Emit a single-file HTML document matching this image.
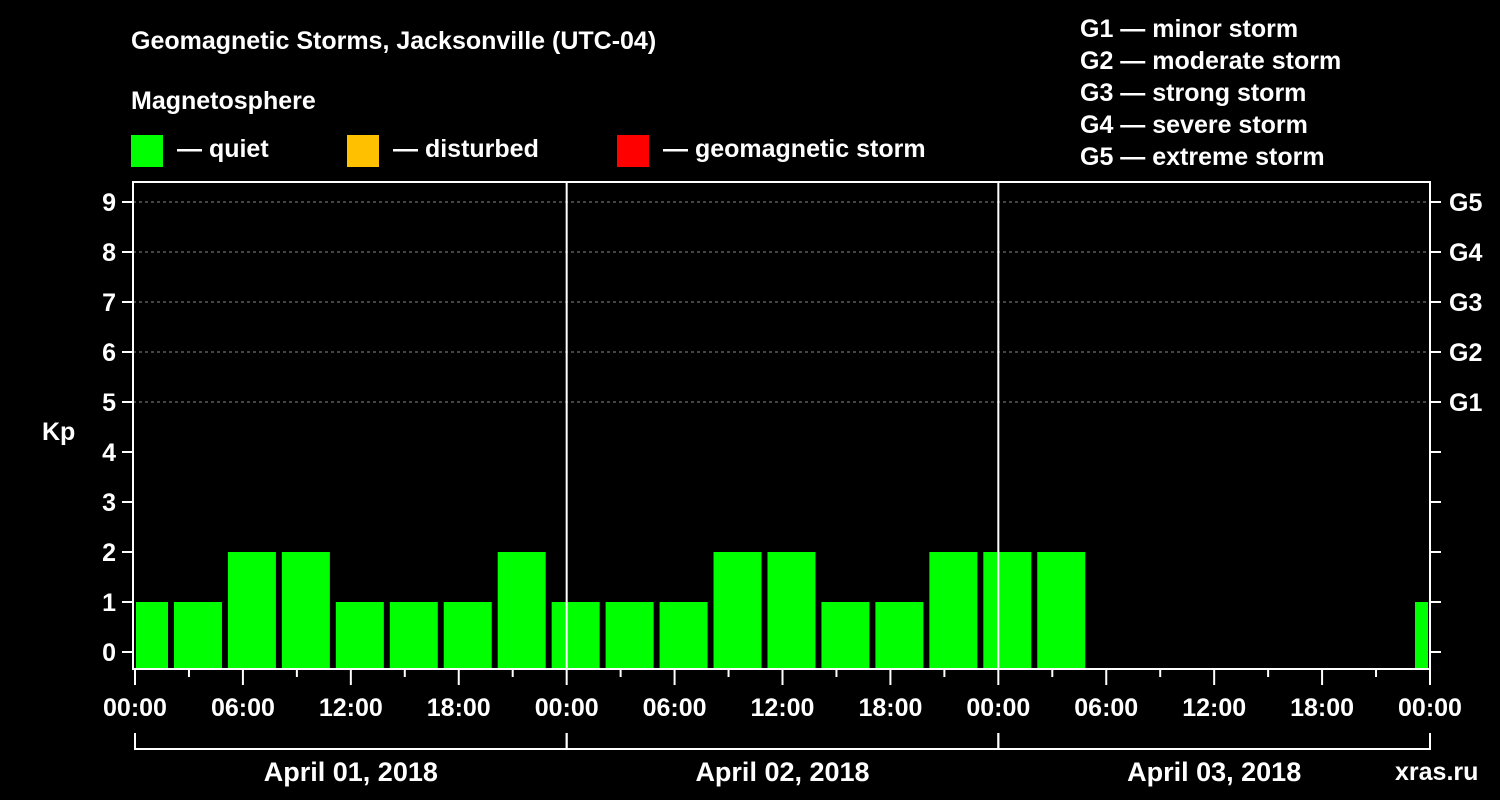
<!DOCTYPE html>
<html><head><meta charset="utf-8"><style>
html,body{margin:0;padding:0;background:#000;}
svg{display:block;font-family:"Liberation Sans",sans-serif;font-weight:bold;}
</style></head><body>
<svg id="chart" width="1500" height="800" viewBox="0 0 1500 800">
<rect width="1500" height="800" fill="#000"/>
<text x="131" y="49" fill="#fff" font-size="25">Geomagnetic Storms, Jacksonville (UTC-04)</text>
<text x="131" y="109" fill="#fff" font-size="25">Magnetosphere</text>
<g><rect x="131" y="135" width="32" height="32" fill="#00ff00"/><text x="177" y="157" fill="#fff" font-size="25">— quiet</text></g>
<g><rect x="347" y="135" width="32" height="32" fill="#ffc000"/><text x="393" y="157" fill="#fff" font-size="25">— disturbed</text></g>
<g><rect x="617" y="135" width="32" height="32" fill="#ff0000"/><text x="663" y="157" fill="#fff" font-size="25">— geomagnetic storm</text></g>
<g fill="#fff" font-size="25">
<text x="1080" y="37">G1 — minor storm</text>
<text x="1080" y="69">G2 — moderate storm</text>
<text x="1080" y="101">G3 — strong storm</text>
<text x="1080" y="133">G4 — severe storm</text>
<text x="1080" y="165">G5 — extreme storm</text>
</g>
<text x="42" y="440" fill="#fff" font-size="25">Kp</text>
<text x="1395" y="780" fill="#fff" font-size="25">xras.ru</text>
<g id="plot"></g>
</svg>
<script>
const kpValues=[1,1,2,2,1,1,1,2,1,1,1,2,2,1,1,2,2,2,null,null,null,null,null,null,1];
const dayLabels=["April 01, 2018","April 02, 2018","April 03, 2018"];
const hourLabels=["00:00","06:00","12:00","18:00"];
const gLabels=["G1","G2","G3","G4","G5"];
const kpTicks=[0,1,2,3,4,5,6,7,8,9];

const NS="http://www.w3.org/2000/svg";
const L=133,R=1430,T=182,B=669;
const x=h=>135+h*(1430-135)/72;
const y=v=>652-v*50;
const g=document.getElementById('plot');
function mk(t,a,txt){const e=document.createElementNS(NS,t);for(const k in a)e.setAttribute(k,a[k]);if(txt!==undefined)e.textContent=txt;g.appendChild(e);return e;}
// grid
for(const v of [5,6,7,8,9]){const e=mk('line',{x1:L,x2:R,y1:y(v),y2:y(v),stroke:'#888','stroke-dasharray':'3,3','stroke-width':1});

}
// bars
kpValues.forEach((v,i)=>{if(v===null)return;
let c=-1+3*i+1.5;let x0=Math.max(x(c)-24,136),x1=Math.min(x(c)+24,1428);
const col=v>=5?'#ff0000':(v>=4?'#ffc000':'#00ff00');
const e=mk('rect',{x:x0,y:y(v),width:x1-x0,height:B-y(v),fill:col});

});
// day separators
for(const d of [1,2]){const e=mk('line',{x1:x(24*d),x2:x(24*d),y1:T,y2:B,stroke:'#fff','stroke-width':2});

}
// frame
const f=mk('rect',{x:L,y:T,width:R-L,height:B-T,fill:'none',stroke:'#fff','stroke-width':2});


// y ticks
kpTicks.forEach(v=>{
mk('line',{x1:122,x2:L,y1:y(v),y2:y(v),stroke:'#fff','stroke-width':2});
mk('line',{x1:R,x2:1441,y1:y(v),y2:y(v),stroke:'#fff','stroke-width':2});
const t=mk('text',{x:116,y:y(v)+9,fill:'#fff','font-size':25,'text-anchor':'end'},String(v));

});
gLabels.forEach((s,i)=>{const t=mk('text',{x:1449,y:y(5+i)+9,fill:'#fff','font-size':25},s);

});
// x ticks
for(let h=0;h<=72;h+=3){const maj=h%6===0;
mk('line',{x1:x(h),x2:x(h),y1:B,y2:maj?685:677,stroke:'#fff','stroke-width':2});
if(maj){const t=mk('text',{x:x(h),y:716,fill:'#fff','font-size':25,'text-anchor':'middle'},hourLabels[(h%24)/6]);

}}
// day brackets
dayLabels.forEach((s,d)=>{
mk('path',{d:`M${x(24*d)},733V749H${x(24*d+24)}V733`,stroke:'#fff','stroke-width':2,fill:'none'});
const t=mk('text',{x:x(24*d+12),y:781,fill:'#fff','font-size':27,'text-anchor':'middle'},s);

});
</script>
</body></html>
